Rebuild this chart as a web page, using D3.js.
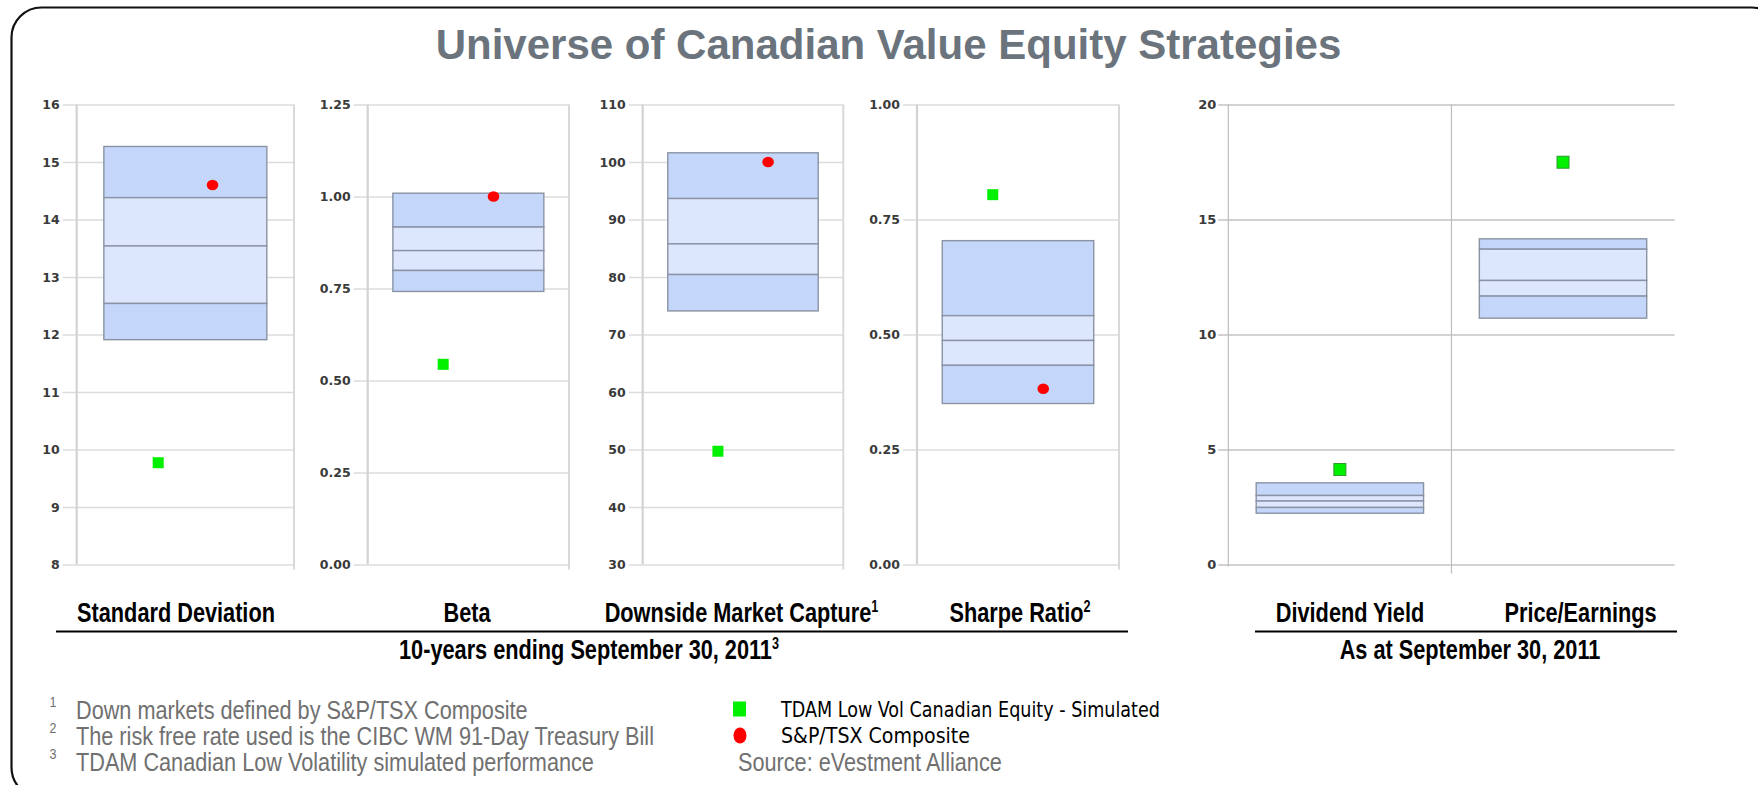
<!DOCTYPE html>
<html>
<head>
<meta charset="utf-8">
<script src="https://cdn.jsdelivr.net/npm/d3@7"></script>
<style>
  html, body { margin: 0; padding: 0; background: #fff; }
  svg { display: block; }
</style>
</head>
<body>
<div id="chart"></div>
<script>
// data
const categories = ["Standard Deviation", "Beta", "Downside Market Capture", "Sharpe Ratio", "Dividend Yield", "Price/Earnings"];
const catSup = ["", "", "1", "2", "", ""];
const boxTop    = [15.27, 1.009, 101.6, 0.704, 3.55, 14.16];
const boxQ1     = [14.38, 0.917, 93.65, 0.541, 3.00, 13.71];
const boxMedian = [13.54, 0.853, 85.76, 0.487, 2.76, 12.35];
const boxQ3     = [12.54, 0.799, 80.43, 0.433, 2.48, 11.67];
const boxBottom = [11.91, 0.742, 74.10, 0.350, 2.23, 10.71];
const tdamValues = [9.77, 0.544, 49.7, 0.804, 4.13, 17.49];
const tsxValues  = [14.6, 1.0, 100, 0.382, null, null];
const tickLabels = [
  [8, 9, 10, 11, 12, 13, 14, 15, 16],
  [0, 0.25, 0.5, 0.75, 1, 1.25],
  [30, 40, 50, 60, 70, 80, 90, 100, 110],
  [0, 0.25, 0.5, 0.75, 1],
  [0, 5, 10, 15, 20]
];
const tickFormats = ["d", ".2f", "d", ".2f", "d"];
const groupLabels = ["10-years ending September 30, 2011", "As at September 30, 2011"];
const groupSup = ["3", ""];
const footnotes = [
  "Down markets defined by S&P/TSX Composite",
  "The risk free rate used is the CIBC WM 91-Day Treasury Bill",
  "TDAM Canadian Low Volatility simulated performance"
];
const seriesNames = ["TDAM Low Vol Canadian Equity - Simulated", "S&P/TSX Composite"];

const width = 1758, height = 785;
const sans = "'Liberation Sans', Arial, sans-serif";
// no narrow face is installed, so condensed text is squeezed sideways
const boldSqueeze = 0.79, plainSqueeze = 0.834;

// panel layout
const panels = [
  { cats: [0], x0: 76.7, x1: 294 },
  { cats: [1], x0: 367.7, x1: 569 },
  { cats: [2], x0: 642.7, x1: 843.3 },
  { cats: [3], x0: 917, x1: 1119 },
  { cats: [4, 5], x0: 1228.3, x1: 1674.6, right: true }
];
const yTop = 104.5, yBottom = 564.5;

const svg = d3.select("#chart").append("svg")
  .attr("width", width).attr("height", height);

svg.append("rect").attr("width", width).attr("height", height).attr("fill", "#fff");

// outer rounded frame
svg.append("rect")
  .attr("x", 11.5).attr("y", 7.5)
  .attr("width", 1770).attr("height", 790)
  .attr("rx", 30).attr("ry", 30)
  .attr("fill", "none").attr("stroke", "#111").attr("stroke-width", 2.2);

svg.append("text")
  .attr("x", 888.5).attr("y", 59)
  .attr("text-anchor", "middle")
  .attr("font-family", sans)
  .attr("font-weight", "bold").attr("font-size", "42px")
  .attr("fill", "#6b747d")
  .text("Universe of Canadian Value Equity Strategies");

function squeezed(x, y, sx) {
  return svg.append("text")
    .attr("transform", "translate(" + x + "," + y + ") scale(" + sx + ",1)")
    .attr("font-family", sans);
}

panels.forEach(function(p, i) {
  const g = svg.append("g");
  const w = p.x1 - p.x0;
  const y = d3.scaleLinear()
    .domain(d3.extent(tickLabels[i]))
    .range([yBottom, yTop]);
  const x = d3.scaleBand().domain(p.cats).range([p.x0, p.x1]);
  const bw = x.bandwidth();
  const off = d3.scalePoint().domain(["tdam", "tsx"]).range([-bw * 0.125, bw * 0.125]);

  // y axis with gridlines
  const tickLen = p.right ? 10 : 14;
  const axis = d3.axisLeft(y)
    .tickValues(tickLabels[i])
    .tickFormat(d3.format(tickFormats[i]))
    .tickSizeInner(-w).tickSizeOuter(0)
    .tickPadding(tickLen + (p.right ? 2 : 3));
  const ax = g.append("g").attr("transform", "translate(" + p.x0 + ",0)").call(axis);
  ax.select(".domain").remove();
  ax.selectAll(".tick line")
    .attr("x1", -tickLen)
    .attr("stroke", p.right ? "#d2d2d2" : "#dcdcdc")
    .attr("stroke-width", p.right ? 2 : 1.5);
  ax.selectAll(".tick text")
    .attr("font-family", "'DejaVu Sans', Verdana, sans-serif")
    .attr("font-weight", "bold")
    .attr("font-size", p.right ? "13px" : "12.5px")
    .attr("fill", "#3a3a3a");

  // vertical frame lines
  if (p.right) {
    g.append("line").attr("x1", p.x0).attr("x2", p.x0).attr("y1", yTop).attr("y2", yBottom + 2)
      .attr("stroke", "#bdbdbd").attr("stroke-width", 1.2);
    g.append("line").attr("x1", x(p.cats[1])).attr("x2", x(p.cats[1])).attr("y1", yTop).attr("y2", yBottom + 9)
      .attr("stroke", "#bdbdbd").attr("stroke-width", 1.2);
  } else {
    g.append("line").attr("x1", p.x0).attr("x2", p.x0).attr("y1", yTop).attr("y2", yBottom)
      .attr("stroke", "#d3d3d3").attr("stroke-width", 2.2);
    g.append("line").attr("x1", p.x1).attr("x2", p.x1).attr("y1", yTop).attr("y2", yBottom + 5)
      .attr("stroke", "#d9d9d9").attr("stroke-width", 2);
  }

  // boxes (four bands) and the two series markers
  p.cats.forEach(function(c) {
    const bx = x(c) + bw * 0.125;
    const bands = [
      [boxTop[c], boxQ1[c], "#c4d7fb"],
      [boxQ1[c], boxMedian[c], "#dce6fd"],
      [boxMedian[c], boxQ3[c], "#dce6fd"],
      [boxQ3[c], boxBottom[c], "#c4d7fb"]
    ];
    g.selectAll(".band" + c)
      .data(bands).enter()
      .append("rect")
      .attr("x", bx).attr("width", bw * 0.75)
      .attr("y", function(d) { return y(d[0]); })
      .attr("height", function(d) { return y(d[1]) - y(d[0]); })
      .attr("fill", function(d) { return d[2]; })
      .attr("stroke", "#8a93a4").attr("stroke-width", 1.4);

    const cx = x(c) + bw / 2;
    const hasTsx = tsxValues[c] != null;
    const gx = cx + (hasTsx ? off("tdam") : 0);
    const s = p.right ? 12 : 11;
    g.append("rect")
      .attr("x", gx - s / 2).attr("y", y(tdamValues[c]) - s / 2)
      .attr("width", s).attr("height", s)
      .attr("fill", "#00f000")
      .attr("stroke", p.right ? "#2f9a2f" : "none").attr("stroke-width", 1);
    if (hasTsx) {
      g.append("ellipse")
        .attr("cx", cx + off("tsx")).attr("cy", y(tsxValues[c]))
        .attr("rx", 5.8).attr("ry", 5.3)
        .attr("fill", "#ff0000");
    }
  });
});

// category labels
const catLabelX = [176, 467, 741.5, 1020, 1350, 1580.5];
categories.forEach(function(name, i) {
  const t = squeezed(catLabelX[i], 622, boldSqueeze)
    .attr("text-anchor", "middle")
    .attr("font-weight", "bold")
    .attr("font-size", "27.5px").attr("fill", "#000");
  t.append("tspan").text(name);
  if (catSup[i]) t.append("tspan").attr("font-size", "16px").attr("dy", -10).text(catSup[i]);
});

// group underlines and captions
const groupSpan = [[56, 1128], [1255, 1677]];
const groupX = [589, 1470];
groupLabels.forEach(function(lbl, i) {
  svg.append("line")
    .attr("x1", groupSpan[i][0]).attr("x2", groupSpan[i][1])
    .attr("y1", 631.5).attr("y2", 631.5)
    .attr("stroke", "#000").attr("stroke-width", 2);
  const t = squeezed(groupX[i], 659, boldSqueeze)
    .attr("text-anchor", "middle")
    .attr("font-weight", "bold")
    .attr("font-size", "27.5px").attr("fill", "#000");
  t.append("tspan").text(lbl);
  if (groupSup[i]) t.append("tspan").attr("font-size", "16px").attr("dy", -10).text(groupSup[i]);
});

// footnotes
footnotes.forEach(function(f, i) {
  const yy = 719 + i * 26;
  squeezed(49.5, yy - 12, plainSqueeze)
    .attr("font-size", "15px").attr("fill", "#707070")
    .text(i + 1);
  squeezed(76, yy, plainSqueeze)
    .attr("font-size", "26px").attr("fill", "#707070")
    .text(f);
});

// legend
svg.append("rect")
  .attr("x", 733).attr("y", 701.5).attr("width", 13).attr("height", 15)
  .attr("fill", "#00f000");
svg.append("ellipse")
  .attr("cx", 740).attr("cy", 735.5).attr("rx", 6.5).attr("ry", 8)
  .attr("fill", "#ff0000");
const legendLen = [379, 189];
seriesNames.forEach(function(n, i) {
  svg.append("text")
    .attr("x", 781).attr("y", 716.5 + i * 26)
    .attr("font-family", "'DejaVu Sans Condensed', 'DejaVu Sans', sans-serif")
    .attr("font-size", "20.5px").attr("fill", "#000")
    .attr("textLength", legendLen[i]).attr("lengthAdjust", "spacingAndGlyphs")
    .text(n);
});
squeezed(738, 771, plainSqueeze)
  .attr("font-size", "26px").attr("fill", "#707070")
  .text("Source: eVestment Alliance");
</script>
</body>
</html>
